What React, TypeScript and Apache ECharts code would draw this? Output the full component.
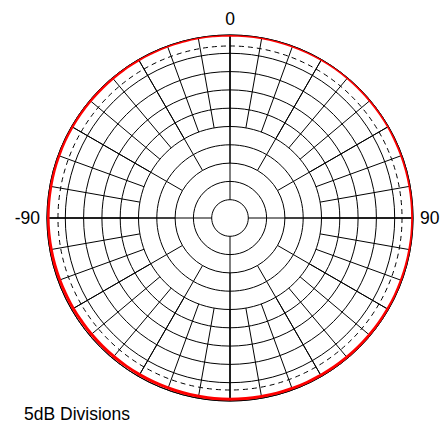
import React, { useEffect, useRef } from "react";
import * as echarts from "echarts";

// Radial scale (dB)
const DB_MIN = -50;
const DB_MAX = 0;
const DB_STEP = 5;
const REF_DB = -3; // dashed reference ring

// Angle labels shown around the plot
const ANGLE_LABEL_VALUES = [0, 90, 270];
const ANGLE_LABEL_TEXTS = ["0", "90", "-90"];

// Spoke tiers: spokes every `everyDeg` starting from ring `fromDb`
const SPOKE_FROM_DB = [-45, -35, -25];
const SPOKE_EVERY_DEG = [90, 30, 10];

// Measured response (red trace), every 5 degrees
const RESPONSE_ANGLES = [
  0, 5, 10, 15, 20, 25, 30, 35, 40, 45, 50, 55, 60, 65, 70, 75, 80, 85, 90,
  95, 100, 105, 110, 115, 120, 125, 130, 135, 140, 145, 150, 155, 160, 165, 170, 175, 180,
  185, 190, 195, 200, 205, 210, 215, 220, 225, 230, 235, 240, 245, 250, 255, 260, 265, 270,
  275, 280, 285, 290, 295, 300, 305, 310, 315, 320, 325, 330, 335, 340, 345, 350, 355, 360,
];
const RESPONSE_DB = [
  0, 0, 0, 0, 0, 0, 0, 0, 0, -0.05, -0.05, -0.05, -0.05, -0.1, -0.1, -0.1, -0.1, -0.1, -0.1,
  -0.1, -0.15, -0.15, -0.2, -0.2, -0.25, -0.25, -0.3, -0.3, -0.35, -0.35, -0.4, -0.4, -0.45, -0.45, -0.5, -0.5, -0.5,
  -0.5, -0.55, -0.55, -0.6, -0.6, -0.6, -0.6, -0.6, -0.6, -0.6, -0.6, -0.55, -0.55, -0.5, -0.45, -0.4, -0.35, -0.3,
  -0.3, -0.3, -0.25, -0.25, -0.2, -0.2, -0.2, -0.2, -0.2, -0.15, -0.15, -0.1, -0.1, -0.05, -0.05, 0, 0, 0,
];

const TITLE = "5dB Divisions";

const FONT = "'Liberation Sans', Arial, Helvetica, sans-serif";
const CENTER = [230, 218];
const OUTER_R = 183;

const dbToRadius = (db: number) => (OUTER_R * (db - DB_MIN)) / (DB_MAX - DB_MIN);

export default function App() {
  const ref = useRef<HTMLDivElement>(null);

  useEffect(() => {
    document.body.style.margin = "0";
    if (!ref.current) return;
    const chart = echarts.init(ref.current, null, { renderer: "svg" });

    const polar: any[] = [];
    const angleAxis: any[] = [];
    const radiusAxis: any[] = [];

    // Polar 0: rings + data
    polar.push({ center: CENTER, radius: [0, OUTER_R] });
    angleAxis.push({
      polarIndex: 0,
      type: "value",
      min: 0,
      max: 360,
      interval: 90,
      startAngle: 90,
      clockwise: true,
      axisLine: { show: true, lineStyle: { color: "#000", width: 1 } },
      axisTick: { show: false },
      axisLabel: {
        show: true,
        margin: 7,
        color: "#000",
        fontSize: 17.5,
        fontFamily: FONT,
        formatter: (v: number) => {
          const i = ANGLE_LABEL_VALUES.indexOf(v);
          return i >= 0 ? ANGLE_LABEL_TEXTS[i] : "";
        },
      },
      splitLine: { show: false },
    });
    radiusAxis.push({
      polarIndex: 0,
      type: "value",
      min: DB_MIN,
      max: DB_MAX,
      interval: DB_STEP,
      axisLine: { show: false },
      axisTick: { show: false },
      axisLabel: { show: false },
      splitLine: { show: true, lineStyle: { color: "#000", width: 1 } },
    });

    // Spoke tiers
    SPOKE_FROM_DB.forEach((fromDb, i) => {
      const idx = polar.length;
      polar.push({ center: CENTER, radius: [dbToRadius(fromDb), OUTER_R] });
      angleAxis.push({
        polarIndex: idx,
        type: "value",
        min: 0,
        max: 360,
        interval: SPOKE_EVERY_DEG[i],
        startAngle: 90,
        clockwise: true,
        axisLine: { show: false },
        axisTick: { show: false },
        axisLabel: { show: false },
        splitLine: { show: true, lineStyle: { color: "#000", width: 1 } },
      });
      radiusAxis.push({
        polarIndex: idx,
        type: "value",
        min: fromDb,
        max: DB_MAX,
        axisLine: { show: false },
        axisTick: { show: false },
        axisLabel: { show: false },
        splitLine: { show: false },
      });
    });

    // Dashed reference ring
    {
      const idx = polar.length;
      polar.push({ center: CENTER, radius: [0, dbToRadius(REF_DB)] });
      angleAxis.push({
        polarIndex: idx,
        type: "value",
        min: 0,
        max: 360,
        startAngle: 90,
        axisLine: { show: true, lineStyle: { color: "#000", width: 1, type: [5, 4] } },
        axisTick: { show: false },
        axisLabel: { show: false },
        splitLine: { show: false },
      });
      radiusAxis.push({
        polarIndex: idx,
        type: "value",
        min: DB_MIN,
        max: REF_DB,
        axisLine: { show: false },
        axisTick: { show: false },
        axisLabel: { show: false },
        splitLine: { show: false },
      });
    }

    chart.setOption({
      animation: false,
      backgroundColor: "#fff",
      title: {
        text: TITLE,
        left: 24,
        top: 405,
        padding: 0,
        textStyle: { fontSize: 17.5, fontWeight: "normal", color: "#000", fontFamily: FONT },
      },
      polar,
      angleAxis,
      radiusAxis,
      series: [
        {
          type: "line",
          coordinateSystem: "polar",
          polarIndex: 0,
          data: RESPONSE_ANGLES.map((a, i) => [RESPONSE_DB[i], a]),
          smooth: true,
          symbol: "none",
          lineStyle: { color: "#ff0000", width: 3 },
          z: 10,
        },
      ],
    });

    return () => chart.dispose();
  }, []);

  return <div ref={ref} style={{ width: 446, height: 423 }} />;
}
